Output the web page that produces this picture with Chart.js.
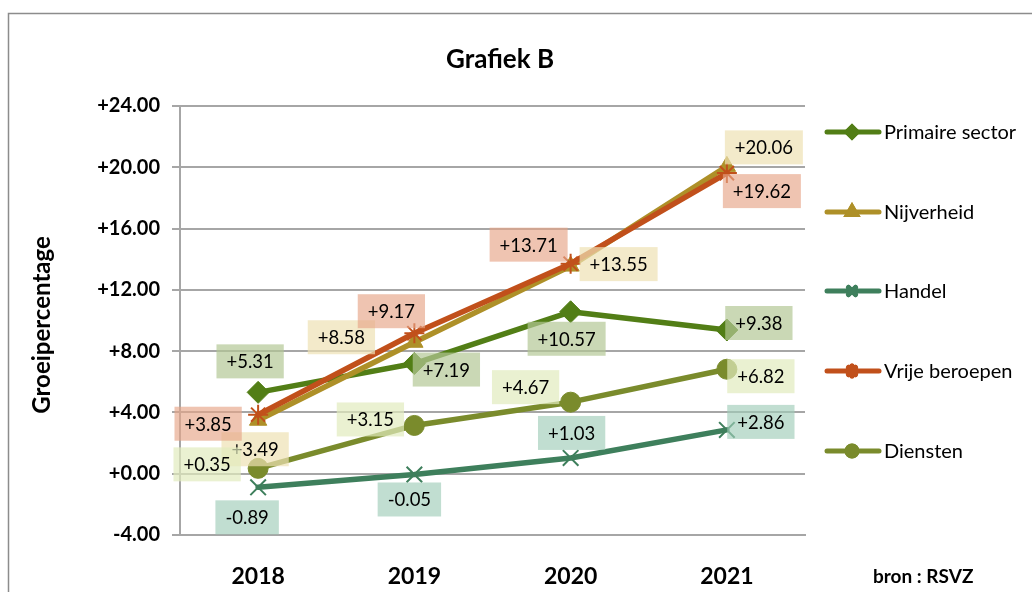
<!DOCTYPE html>
<html>
<head>
<meta charset="utf-8">
<script src="https://cdn.jsdelivr.net/npm/chart.js@4.4.0/dist/chart.umd.min.js"></script>
<style>
  html, body { margin: 0; padding: 0; background: #fff; }
  #wrap { width: 1032px; height: 592px; }
</style>
</head>
<body>
<div id="wrap"><canvas id="grafiek"></canvas></div>
<script>
const jaren = ['2018', '2019', '2020', '2021'];
const yTicks = [-4, 0, 4, 8, 12, 16, 20, 24];

const primaire = [5.31, 7.19, 10.57, 9.38];
const nijverheid = [3.49, 8.58, 13.55, 20.06];
const handel = [-0.89, -0.05, 1.03, 2.86];
const vrije = [3.85, 9.17, 13.71, 19.62];
const diensten = [0.35, 3.15, 4.67, 6.82];

const namen = ['Primaire sector', 'Nijverheid', 'Handel', 'Vrije beroepen', 'Diensten'];

// waar het label naast het punt staat (px)
const labelOffsets = [
  [[-8, -31], [32, 6], [-4, 27], [32, -7]],
  [[-3, 29], [-73, -5], [48, -2], [37, -19]],
  [[-11, 30], [-5, 25], [1, -25], [34, -8]],
  [[-50, 9], [-23, -22], [-42, -19], [35, 18]],
  [[-51, -4], [-44, -6], [-45, -15], [34, 7]]
];

const kleuren = ['#527e16', '#ae9028', '#3e7f5c', '#c1501b', '#7a8b2c'];
const vakKleuren = [
  'rgba(180,200,150,0.7)',
  'rgba(238,225,180,0.7)',
  'rgba(160,205,185,0.65)',
  'rgba(230,165,135,0.65)',
  'rgba(225,235,190,0.7)'
];
const puntStijl = ['rectRot', 'triangle', 'crossRot', 'star', 'circle'];
const puntGrootte = [11, 10, 11, 10, 10];

const FONT = 'Lato, "Open Sans", sans-serif';
const grijs = '#a6a6a6';

function fmt(v) {
  return (v >= 0 ? '+' : '') + v.toFixed(2);
}

const reeksen = [primaire, nijverheid, handel, vrije, diensten];

const datasets = reeksen.map(function (d, i) {
  const lijn = puntStijl[i] === 'crossRot' || puntStijl[i] === 'star';
  return {
    label: namen[i],
    data: d,
    borderColor: kleuren[i],
    backgroundColor: kleuren[i],
    borderWidth: 5.5,
    borderCapStyle: 'round',
    borderJoinStyle: 'round',
    pointStyle: puntStijl[i],
    pointRadius: puntGrootte[i],
    pointBackgroundColor: kleuren[i],
    pointBorderColor: kleuren[i],
    pointBorderWidth: lijn ? 2 : 1,
    order: 5 - i,
    tension: 0
  };
});

const extras = {
  id: 'extras',
  beforeDraw(chart) {
    const ctx = chart.ctx;
    ctx.save();
    ctx.strokeStyle = '#8c8c8c';
    ctx.lineWidth = 1.5;
    ctx.strokeRect(8.5, 13.5, 1200, 700);
    ctx.restore();
  },
  afterDatasetsDraw(chart) {
    const ctx = chart.ctx;
    ctx.save();
    ctx.font = '18.5px ' + FONT;
    ctx.textAlign = 'center';
    ctx.textBaseline = 'middle';
    reeksen.forEach(function (d, i) {
      const meta = chart.getDatasetMeta(i);
      meta.data.forEach(function (pt, j) {
        const tekst = fmt(d[j]);
        const cx = pt.x + labelOffsets[i][j][0];
        const cy = pt.y + labelOffsets[i][j][1];
        const w = ctx.measureText(tekst).width + 20;
        const h = 34;
        ctx.fillStyle = vakKleuren[i];
        ctx.fillRect(cx - w / 2, cy - h / 2, w, h);
        ctx.fillStyle = '#000';
        ctx.fillText(tekst, cx, cy + 1);
      });
    });
    ctx.restore();
  },
  afterDraw(chart) {
    const ctx = chart.ctx;
    ctx.save();
    ctx.fillStyle = '#000';
    ctx.textAlign = 'center';
    ctx.textBaseline = 'middle';
    ctx.font = 'bold 26px ' + FONT;
    ctx.fillText('Grafiek B', 500, 60);

    ctx.save();
    ctx.translate(42, 325);
    ctx.rotate(-Math.PI / 2);
    ctx.font = 'bold 24px ' + FONT;
    ctx.fillText('Groeipercentage', 0, 0);
    ctx.restore();

    ctx.font = 'bold 19px ' + FONT;
    ctx.textAlign = 'left';
    ctx.fillText('bron : RSVZ', 873, 577);

    // legenda
    const legY = [132, 212, 291, 371, 451];
    namen.forEach(function (n, i) {
      const y = legY[i];
      ctx.strokeStyle = kleuren[i];
      ctx.lineWidth = 5;
      ctx.lineCap = 'round';
      ctx.beginPath();
      ctx.moveTo(827, y);
      ctx.lineTo(879, y);
      ctx.stroke();
      Chart.helpers.drawPoint(ctx, {
        pointStyle: puntStijl[i],
        radius: 5,
        borderWidth: 1.5
      }, 852, y);
      ctx.fillStyle = kleuren[i];
      ctx.fill();
      ctx.stroke();
      ctx.fillStyle = '#000';
      ctx.font = '20px ' + FONT;
      ctx.textAlign = 'left';
      ctx.fillText(n, 884, y + 1);
    });
    ctx.restore();
  }
};

new Chart(document.getElementById('grafiek'), {
  type: 'line',
  data: {
    labels: jaren,
    datasets: datasets
  },
  options: {
    responsive: true,
    maintainAspectRatio: false,
    animation: false,
    layout: {
      padding: { top: 106, right: 227, bottom: 0, left: 0 }
    },
    plugins: {
      legend: { display: false },
      title: { display: false },
      tooltip: { enabled: false }
    },
    scales: {
      x: {
        offset: true,
        afterFit: function (s) { s.height = 57; },
        grid: { display: false },
        border: { color: grijs, width: 2 },
        ticks: {
          color: '#000',
          padding: 20,
          font: { family: FONT, size: 23, weight: 'bold' }
        }
      },
      y: {
        min: -4,
        max: 24,
        afterFit: function (s) { s.width = 180; },
        afterBuildTicks: function (s) {
          s.ticks = yTicks.map(function (v) { return { value: v }; });
        },
        grid: {
          color: grijs,
          lineWidth: 2,
          tickLength: 8
        },
        border: { color: grijs, width: 2 },
        ticks: {
          color: '#000',
          padding: 12,
          font: { family: FONT, size: 20, weight: 'bold' },
          callback: function (v) { return fmt(v); }
        }
      }
    }
  },
  plugins: [extras]
});
</script>
</body>
</html>
